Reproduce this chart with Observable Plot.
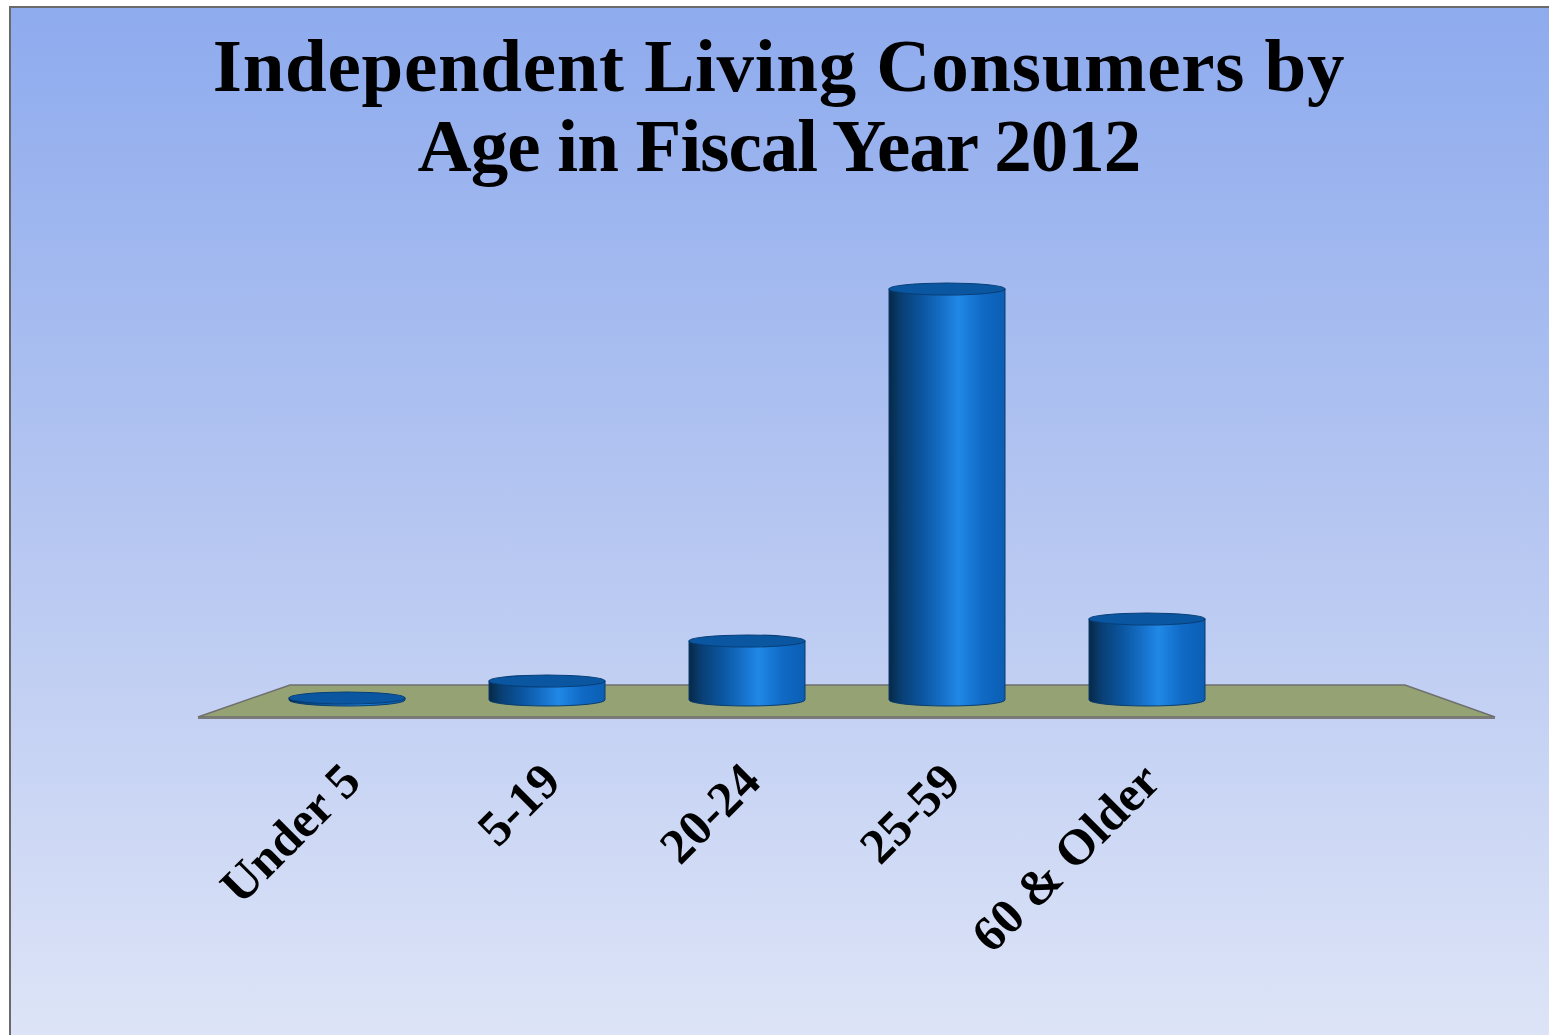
<!DOCTYPE html>
<html>
<head>
<meta charset="utf-8">
<script src="https://cdn.jsdelivr.net/npm/d3@7"></script>
<script src="https://cdn.jsdelivr.net/npm/@observablehq/plot@0.6"></script>
<style>
  html, body { margin: 0; padding: 0; background: #ffffff; }
  body { width: 1549px; height: 1035px; position: relative; overflow: hidden; }
  #panel {
    position: absolute; left: 9px; top: 6px; width: 1540px; height: 1029px;
    box-sizing: border-box;
    border-left: 2px solid #6a6a6a; border-top: 2px solid #6a6a6a;
    background: linear-gradient(to bottom, #8eabee 0%, #b5c6f1 50%, #dde4f7 100%);
  }
  #title {
    position: absolute; left: 9px; top: 6px; width: 1540px;
    padding-top: 20px;
    text-align: center;
    font-family: "Liberation Serif", serif; font-weight: bold;
    font-size: 75px; line-height: 80px; color: #000;
  }
  #title .l1 { letter-spacing: 0.7px; }
  #title .l2 { letter-spacing: -1px; }
  #chart { position: absolute; left: 0; top: 240px; }
</style>
</head>
<body>
<div id="panel"></div>
<div id="title"><span class="l1">Independent Living Consumers by</span><br><span class="l2">Age in Fiscal Year 2012</span></div>
<div id="chart"></div>
<script>
// ---- data ----
const categories = ["Under 5", "5-19", "20-24", "25-59", "60 & Older"];
const consumers = [20, 190, 590, 4110, 810];

const data = categories.map((c, i) => ({age: c, value: consumers[i]}));

// floor (decorative trapezoid following the x range and the y baseline)
function floorRender(index, scales, values, dims) {
  const a = dims.marginLeft, b = dims.width - dims.marginRight;
  const y0 = scales.y(0);
  const pts = [[a + 43, y0 - 15], [b + 158, y0 - 15], [b + 248, y0 + 17], [a - 49, y0 + 17]];
  const g = d3.create("svg:g");
  g.append("path")
    .attr("d", "M" + pts.map(p => p.join(",")).join("L") + "Z")
    .attr("fill", "#95a374")
    .attr("stroke", "#6f6f6f")
    .attr("stroke-width", 1.5);
  g.append("line")
    .attr("x1", pts[3][0]).attr("x2", pts[2][0])
    .attr("y1", pts[3][1] + 1).attr("y2", pts[2][1] + 1)
    .attr("stroke", "#7a7a7a").attr("stroke-width", 2);
  return g.node();
}

function cylinderRender(index, scales, values, dims) {
  const bw = scales.x.bandwidth();
  const ry = 6;
  const g = d3.create("svg:g");
  const defs = g.append("defs");
  const grad = defs.append("linearGradient").attr("id", "cylGrad")
    .attr("x1", 0).attr("x2", 1).attr("y1", 0).attr("y2", 0);
  [[0, "#062846"], [0.1, "#093e72"], [0.3, "#0b57a3"], [0.52, "#1a7ad6"],
   [0.6, "#2188e6"], [0.8, "#0f6ac6"], [1, "#0b5eb3"]].forEach(([o, c]) =>
    grad.append("stop").attr("offset", o).attr("stop-color", c));
  for (const i of index) {
    const x0 = values.x[i], x1 = x0 + bw, cx = x0 + bw / 2, rx = bw / 2;
    const yTop = Math.min(values.y1[i], values.y2[i]);
    const yBot = Math.max(values.y1[i], values.y2[i]);
    g.append("path")
      .attr("d", `M${x0},${yTop}L${x0},${yBot}A${rx},${ry} 0 0 0 ${x1},${yBot}L${x1},${yTop}Z`)
      .attr("fill", "url(#cylGrad)")
      .attr("stroke", "#0a3d6e").attr("stroke-width", 1);
    g.append("ellipse")
      .attr("cx", cx).attr("cy", yTop).attr("rx", rx).attr("ry", ry)
      .attr("fill", "#0b56a1")
      .attr("stroke", "#083f78").attr("stroke-width", 1.2);
  }
  return g.node();
}

const chart = Plot.plot({
  width: 1549,
  height: 795,
  marginLeft: 247,
  marginRight: 302,
  marginTop: 10,
  marginBottom: 335,
  style: {
    background: "transparent",
    fontFamily: "'Liberation Serif', serif",
    fontWeight: "bold",
    fontSize: "50px",
    color: "#000",
    overflow: "visible"
  },
  x: {domain: categories, paddingInner: 0.42, paddingOuter: 0.21, axis: null},
  y: {domain: [0, 4500], axis: null},
  marks: [
    Plot.ruleY([0], {render: floorRender}),
    Plot.barY(data, {x: "age", y: "value", render: cylinderRender}),
    Plot.axisX({tickRotate: -45, tickSize: 0, tickPadding: 72, dx: 4, label: null,
                fontSize: 50, fontWeight: "bold", fill: "#000"})
  ]
});
document.getElementById("chart").appendChild(chart);
</script>
</body>
</html>
